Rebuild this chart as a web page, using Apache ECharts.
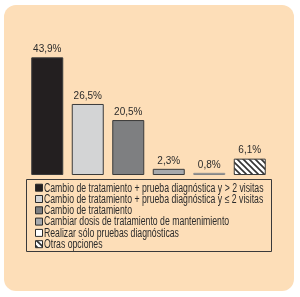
<!DOCTYPE html>
<html><head><meta charset="utf-8">
<script src="https://cdn.jsdelivr.net/npm/echarts@6/dist/echarts.min.js"></script>
<style>html,body{margin:0;padding:0;background:#fff}#c{width:300px;height:297px}</style>
</head><body><div id="c"></div>
<script>
const categories = [
  'Cambio de tratamiento + prueba diagnóstica y > 2 visitas',
  'Cambio de tratamiento + prueba diagnóstica y ≤ 2 visitas',
  'Cambio de tratamiento',
  'Cambiar dosis de tratamiento de mantenimiento',
  'Realizar sólo pruebas diagnósticas',
  'Otras opciones'
];
const values = [43.9, 26.5, 20.5, 2.3, 0.8, 6.1];
const FONT = '"Liberation Sans", Arial, sans-serif';

const pc = document.createElement('canvas');
pc.width = 6; pc.height = 6;
const g = pc.getContext('2d');
g.fillStyle = '#fff'; g.fillRect(0,0,6,6);
g.strokeStyle = '#333'; g.lineWidth = 1.6;
g.beginPath();
g.moveTo(-1,-1); g.lineTo(7,7);
g.moveTo(-4,2); g.lineTo(4,10);
g.moveTo(2,-4); g.lineTo(10,4);
g.stroke();

const colors = ['#231F20', '#D3D4D5', '#7E7F81', '#A7A9AC', '#FFFFFF', {image: pc, repeat: 'repeat'}];
const borders = ['#3a3a3a', '#3a3a3a', '#3a3a3a', '#3a3a3a', '#858585', '#3a3a3a'];

const series = categories.map((name, i) => ({
  name: name,
  type: 'bar',
  barWidth: 32,
  barGap: '-100%',
  data: values.map((v, j) => j === i ? v : '-'),
  itemStyle: {color: colors[i], borderColor: borders[i], borderWidth: 1},
  label: {
    show: true, position: 'top', distance: 3,
    formatter: p => String(p.value).replace('.', ',') + '%',
    fontFamily: FONT, fontSize: 10, color: '#2b2b2b'
  },
  animation: false
}));

const legendY0 = 187.7, legendStep = 11.3;
const legendItems = [];
categories.forEach((name, i) => {
  const y = legendY0 + i * legendStep;
  legendItems.push({type: 'rect', z: 11, shape: {x: 35.5, y: y - 3.5, width: 7, height: 7},
    style: {fill: colors[i], stroke: '#2b2b2b', lineWidth: 1}});
  legendItems.push({type: 'text', z: 11, x: 44, y: y + 0.5, scaleX: 0.725,
    style: {text: name, font: '12px ' + FONT, fill: '#2b2b2b', verticalAlign: 'middle', align: 'left'}});
});

const chart = echarts.init(document.getElementById('c'), null, {renderer: 'canvas'});
chart.setOption({
  backgroundColor: '#fff',
  animation: false,
  graphic: [
    {type: 'rect', z: -10, shape: {x: 4, y: 5, width: 290, height: 286, r: 12}, style: {fill: '#FDDEB8'}},
    {type: 'rect', z: 10, shape: {x: 26.5, y: 179.5, width: 245, height: 72}, style: {fill: 'none', stroke: '#3a3a3a', lineWidth: 1}}
  ].concat(legendItems),
  grid: {left: 27, right: 30, top: 41, bottom: 122},
  xAxis: {type: 'category', data: categories, show: false},
  yAxis: {type: 'value', min: 0, max: 50, show: false},
  series: series
});
</script></body></html>
